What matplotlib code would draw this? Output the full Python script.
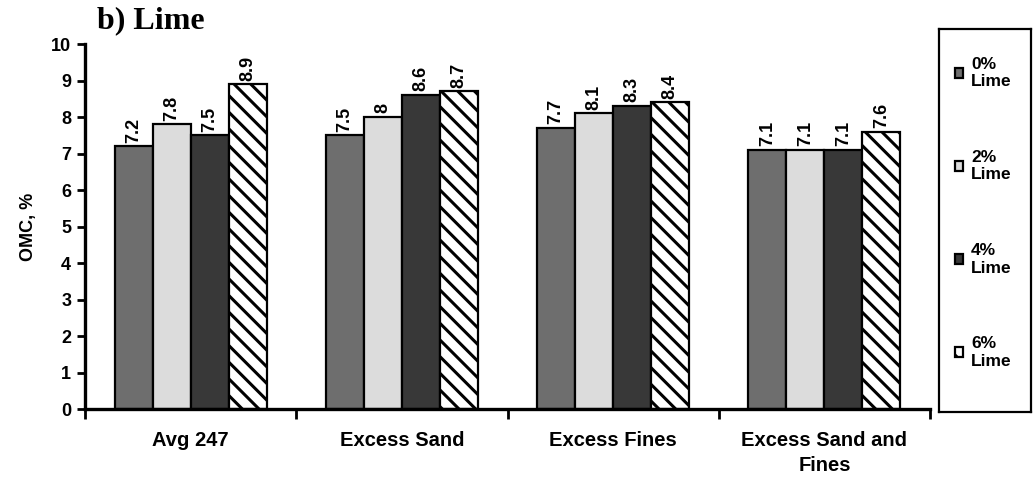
import numpy as np
import matplotlib
matplotlib.use("Agg")
import matplotlib.pyplot as plt

# data
categories = ["Avg 247", "Excess Sand", "Excess Fines", "Excess Sand and\nFines"]
series_labels = ["0%\nLime", "2%\nLime", "4%\nLime", "6%\nLime"]
omc_0 = [7.2, 7.5, 7.7, 7.1]
omc_2 = [7.8, 8.0, 8.1, 7.1]
omc_4 = [7.5, 8.6, 8.3, 7.1]
omc_6 = [8.9, 8.7, 8.4, 7.6]
value_text = [["7.2", "7.5", "7.7", "7.1"],
              ["7.8", "8", "8.1", "7.1"],
              ["7.5", "8.6", "8.3", "7.1"],
              ["8.9", "8.7", "8.4", "7.6"]]

plt.rcParams['font.family'] = ['Liberation Sans', 'DejaVu Sans']
plt.rcParams['hatch.linewidth'] = 2.2

fig = plt.figure(figsize=(10.33, 4.83), dpi=100)
ax = fig.add_axes([0.0823, 0.1532, 0.818, 0.7557])

x = np.arange(len(categories))
w = 0.18
styles = [
    dict(color="#6e6e6e", hatch=None),
    dict(color="#dcdcdc", hatch=None),
    dict(color="#383838", hatch=None),
    dict(color="white", hatch="\\\\"),
]
all_series = [omc_0, omc_2, omc_4, omc_6]
handles = []
for i, (vals, st) in enumerate(zip(all_series, styles)):
    pos = x + (i - 1.5) * w
    b = ax.bar(pos, vals, width=w, facecolor=st["color"], edgecolor="black",
               linewidth=1.6, hatch=st["hatch"], label=series_labels[i])
    handles.append(b)
    for px, v, t in zip(pos, vals, value_text[i]):
        ax.text(px, v + 0.1, t, rotation=90, ha="center", va="bottom",
                fontsize=13, fontweight="bold")

ax.set_xlim(-0.5, len(categories) - 0.5)
ax.set_ylim(0, 10)
ax.set_yticks(range(0, 11))
ax.set_yticklabels([str(v) for v in range(0, 11)], fontsize=13, fontweight="bold")
ax.set_xticks(np.arange(-0.5, len(categories)), minor=False)
ax.set_xticklabels([])
ax.set_xticks(x, minor=True)
ax.set_xticklabels(categories, minor=True, fontsize=14.5, fontweight="bold",
                   va="top", linespacing=1.4)
ax.tick_params(axis="x", which="minor", length=0, pad=16)
ax.tick_params(axis="x", which="major", length=7, width=2, direction="out")
ax.tick_params(axis="y", length=6, width=2, direction="out", pad=4)

for s in ["top", "right"]:
    ax.spines[s].set_visible(False)
ax.spines["left"].set_linewidth(2.4)
ax.spines["bottom"].set_linewidth(2.4)

ax.set_ylabel("OMC, %", fontsize=13, fontweight="bold", labelpad=10)

fig.text(0.094, 0.957, "b) Lime", fontsize=23, fontweight="bold",
         family="Liberation Serif", ha="left", va="center")

# legend box
lax = fig.add_axes([939 / 1033, 1 - 412 / 483, 92 / 1033, 383 / 483])
lax.set_xticks([])
lax.set_yticks([])
for s in lax.spines.values():
    s.set_linewidth(1.6)
lax.legend(handles=handles, labels=series_labels, loc="center left",
           bbox_to_anchor=(0.17, 0.52), borderaxespad=0, borderpad=0,
           prop=dict(size=12.5, weight="bold"), handlelength=0.5, handleheight=0.5,
           handletextpad=0.45, labelspacing=3.5, frameon=False)

fig.savefig("out.png", dpi=100)
